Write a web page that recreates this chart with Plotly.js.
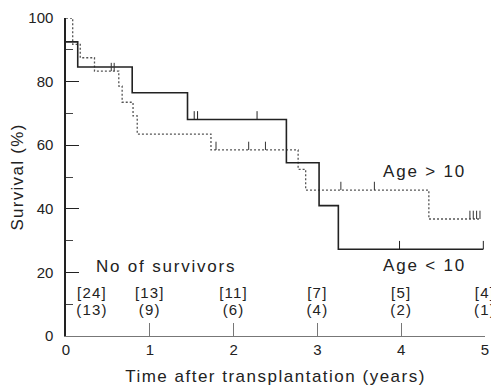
<!DOCTYPE html>
<html>
<head>
<meta charset="utf-8">
<script src="https://cdn.plot.ly/plotly-3.0.1.min.js"></script>
<style>
html,body{margin:0;padding:0;background:#fff;}
#chart{width:491px;height:387px;}
.g-xtitle text{letter-spacing:1.5px;}
.g-ytitle text{letter-spacing:1.3px;}
.annotation-text{letter-spacing:1.8px;}
.textpoint text{letter-spacing:1.2px;}
</style>
</head>
<body>
<div id="chart"></div>
<script>
// Age > 10 (dotted curve)
const olderTimes = [0, 0.08, 0.17, 0.34, 0.63, 0.67, 0.80, 0.85, 1.73, 2.77, 2.86, 4.33, 4.94];
const olderSurv  = [100, 91.7, 87.5, 83.3, 78.6, 73.5, 69.2, 63.5, 58.5, 52.4, 45.9, 36.8, 36.8];
const olderCensored = [0.54, 0.575, 1.79, 2.18, 2.38, 3.28, 3.68, 4.82, 4.86, 4.90, 4.94];

// Age < 10 (solid curve)
const youngerTimes = [0, 0.14, 0.79, 1.45, 2.63, 3.02, 3.25, 4.98];
const youngerSurv  = [92.5, 84.6, 76.5, 68.1, 54.5, 41.0, 27.3, 27.3];
const youngerCensored = [1.53, 1.57, 2.28, 3.98, 4.98];

// Numbers of survivors
const countTimes = [0.31, 1, 2, 3, 4, 5];
const olderCounts = [24, 13, 11, 7, 5, 4];
const youngerCounts = [13, 9, 6, 4, 2, 1];

const xTicks = [0, 1, 2, 3, 4, 5];
const yTicks = [0, 20, 40, 60, 80, 100];

function stepAt(times, surv, t) {
  let v = surv[0];
  for (let i = 0; i < times.length; i++) { if (times[i] <= t) v = surv[i]; }
  return v;
}

const FONT = 'Liberation Sans, Arial, Helvetica, sans-serif';
const DARK = '#222';
const GREY = '#555';

function censorTrace(times, surv, cens, color) {
  return {
    x: cens, y: cens.map(t => stepAt(times, surv, t)),
    mode: 'markers', type: 'scatter', hoverinfo: 'skip', showlegend: false,
    marker: {size: 1, color: 'rgba(0,0,0,0)'},
    error_y: {type: 'data', symmetric: false, array: cens.map(() => 2.6), arrayminus: cens.map(() => 0),
              width: 0, thickness: 1, color: color},
    cliponaxis: false
  };
}

const traces = [
  {x: olderTimes, y: olderSurv, mode: 'lines', type: 'scatter', name: 'Age > 10',
   line: {shape: 'hv', color: GREY, width: 1.3, dash: '2px,2px'}, showlegend: false, cliponaxis: false},
  {x: youngerTimes, y: youngerSurv, mode: 'lines', type: 'scatter', name: 'Age < 10',
   line: {shape: 'hv', color: DARK, width: 1.6}, showlegend: false, cliponaxis: false},
  censorTrace(olderTimes, olderSurv, olderCensored, '#333'),
  censorTrace(youngerTimes, youngerSurv, youngerCensored, DARK),
  {x: countTimes, y: countTimes.map(() => 13.1), mode: 'text', type: 'scatter',
   text: olderCounts.map(n => '[' + n + ']'), textposition: 'middle center',
   textfont: {family: FONT, size: 15, color: DARK}, showlegend: false, hoverinfo: 'skip', cliponaxis: false},
  {x: countTimes, y: countTimes.map(() => 7.9), mode: 'text', type: 'scatter',
   text: youngerCounts.map(n => '(' + n + ')'), textposition: 'middle center',
   textfont: {family: FONT, size: 15, color: DARK}, showlegend: false, hoverinfo: 'skip', cliponaxis: false}
];

const layout = {
  width: 491, height: 387,
  margin: {l: 66, r: 6, t: 18, b: 51, pad: 0},
  paper_bgcolor: '#fff', plot_bgcolor: '#fff',
  font: {family: FONT, size: 15, color: DARK},
  showlegend: false,
  xaxis: {
    range: [0, 5], tickvals: xTicks, ticktext: xTicks.map(String),
    ticks: 'inside', ticklen: 13, tickwidth: 1, tickcolor: '#777',
    showline: true, linecolor: '#777', linewidth: 1.2,
    showgrid: false, zeroline: false,
    tickfont: {family: FONT, size: 15, color: DARK},
    title: {text: 'Time after transplantation (years)', font: {family: FONT, size: 17, color: DARK}, standoff: 12}
  },
  yaxis: {
    range: [0, 100], tickvals: yTicks, ticktext: yTicks.map(String),
    ticks: 'inside', ticklen: 13, tickwidth: 1.2, tickcolor: DARK,
    minor: {tickvals: [10, 30, 50, 70, 90], ticks: 'inside', ticklen: 7, tickwidth: 1, tickcolor: '#444'},
    showline: true, linecolor: DARK, linewidth: 1.6,
    showgrid: false, zeroline: false,
    tickfont: {family: FONT, size: 15, color: DARK},
    ticklabelstandoff: 8,
    title: {text: 'Survival (%)', font: {family: FONT, size: 17, color: DARK}, standoff: 0}
  },
  annotations: [
    {x: 4.28, y: 51.6, xref: 'x', yref: 'y', text: 'Age > 10', showarrow: false,
     font: {family: FONT, size: 17, color: DARK}, xanchor: 'center', yanchor: 'middle'},
    {x: 4.28, y: 22.3, xref: 'x', yref: 'y', text: 'Age < 10', showarrow: false,
     font: {family: FONT, size: 17, color: DARK}, xanchor: 'center', yanchor: 'middle'},
    {x: 1.19, y: 21.8, xref: 'x', yref: 'y', text: 'No of survivors', showarrow: false,
     font: {family: FONT, size: 17, color: DARK}, xanchor: 'center', yanchor: 'middle'}
  ]
};

Plotly.newPlot('chart', traces, layout, {displayModeBar: false, staticPlot: true});
</script>
</body>
</html>
